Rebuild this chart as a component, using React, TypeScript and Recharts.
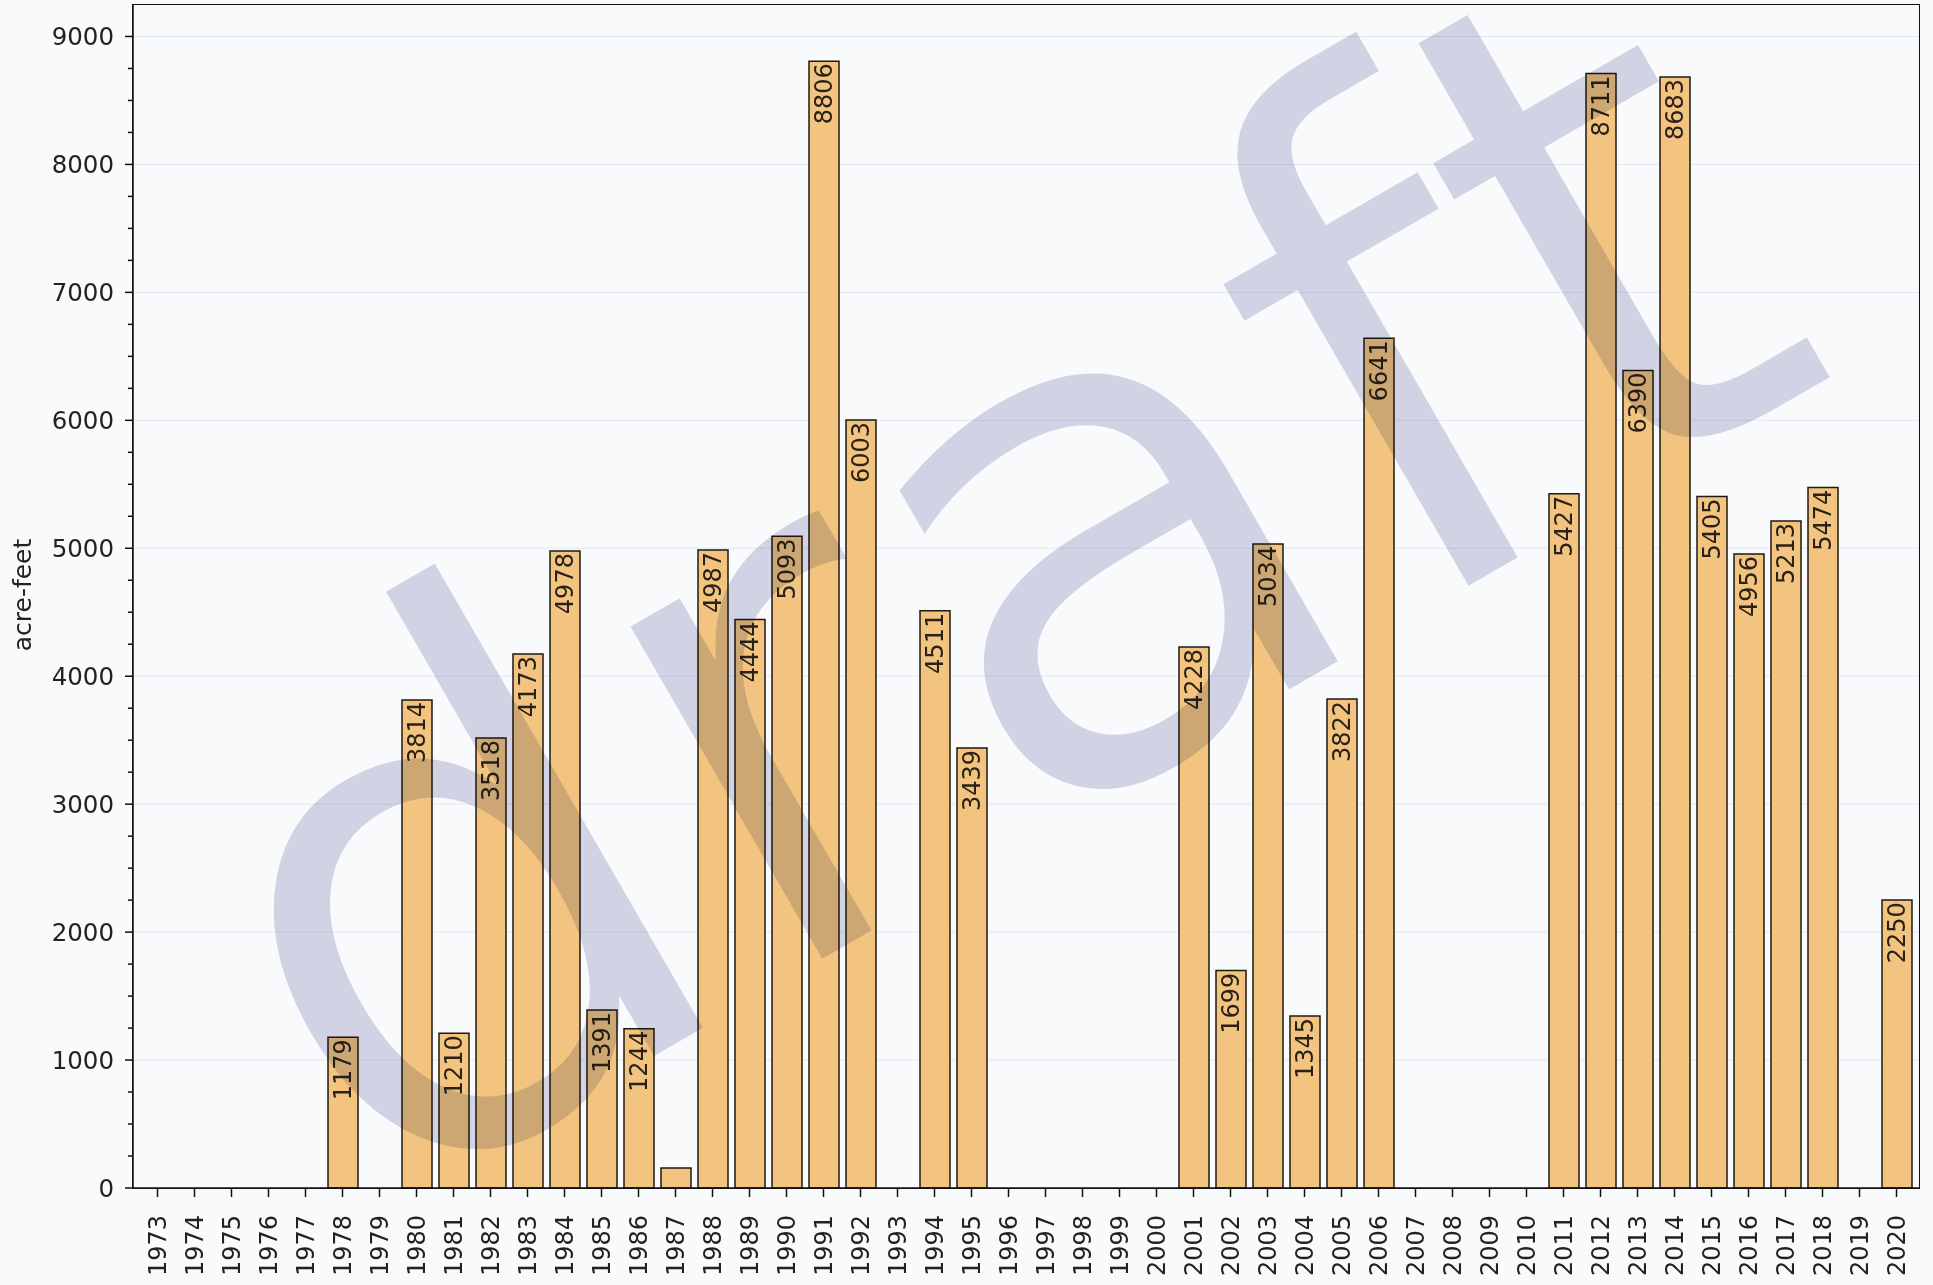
import { Bar, BarChart, CartesianGrid, LabelList, XAxis, YAxis } from "recharts";

// yearly volumes, acre-feet (0 = no bar drawn)
const years = [
  "1973", "1974", "1975", "1976", "1977", "1978", "1979", "1980", "1981", "1982",
  "1983", "1984", "1985", "1986", "1987", "1988", "1989", "1990", "1991", "1992",
  "1993", "1994", "1995", "1996", "1997", "1998", "1999", "2000", "2001", "2002",
  "2003", "2004", "2005", "2006", "2007", "2008", "2009", "2010", "2011", "2012",
  "2013", "2014", "2015", "2016", "2017", "2018", "2019", "2020",
];
const volumes = [
  0, 0, 0, 0, 0, 1179, 0, 3814, 1210, 3518,
  4173, 4978, 1391, 1244, 156, 4987, 4444, 5093, 8806, 6003,
  0, 4511, 3439, 0, 0, 0, 0, 0, 4228, 1699,
  5034, 1345, 3822, 6641, 0, 0, 0, 0, 5427, 8711,
  6390, 8683, 5405, 4956, 5213, 5474, 0, 2250,
];
const yTicks = Array.from({ length: 37 }, (_, i) => i * 250);
const gridValues = [1000, 2000, 3000, 4000, 5000, 6000, 7000, 8000, 9000];

const data = years.map((year, i) => ({ year, volume: volumes[i] }));

const FONT = "DejaVu Sans, Verdana, sans-serif";
const TEXT = "#222";

function YTick({ x, y, payload }: any) {
  const major = payload.value % 1000 === 0;
  return (
    <g>
      <line x1={x} x2={x - (major ? 8 : 5)} y1={y} y2={y} stroke="#111" strokeWidth={1.5} />
      {major && (
        <text x={x - 19} y={y} textAnchor="end" dominantBaseline="central" fontSize={24.5} fill={TEXT} fontFamily={FONT}>
          {payload.value}
        </text>
      )}
    </g>
  );
}

function XTick({ x, y, payload }: any) {
  return (
    <g transform={`translate(${x},${y})`}>
      <text x={-18} y={0} transform="rotate(-90)" textAnchor="end" dominantBaseline="central" fontSize={24} fill={TEXT} fontFamily={FONT}>
        {payload.value}
      </text>
    </g>
  );
}

function YLabel() {
  return (
    <text x={22} y={595} transform="rotate(-90 22 595)" textAnchor="middle" dominantBaseline="central" fontSize={25} fill={TEXT} fontFamily={FONT}>
      acre-feet
    </text>
  );
}

function ValueLabel({ x, y, width, value }: any) {
  if (!value || value < 500) return null;
  const cx = x + width / 2;
  const ty = y + 2;
  return (
    <text x={cx} y={ty} transform={`rotate(-90 ${cx} ${ty})`} textAnchor="end" dominantBaseline="central" fontSize={24} fill="#2a2218" fontFamily={FONT}>
      {value}
    </text>
  );
}

export default function App() {
  return (
    <div style={{ position: "absolute", left: 0, top: 0, width: 1933, height: 1285, background: "#f9fafc" }}>
      <BarChart width={1933} height={1285} data={data} margin={{ top: 5, right: 14, left: 0, bottom: 0 }}>
        <CartesianGrid horizontalValues={gridValues} vertical={false} stroke="#e3e7ee" strokeWidth={1} />
        <XAxis
          dataKey="year"
          height={97}
          interval={0}
          padding={{ left: 6, right: 4 }}
          tick={<XTick />}
          tickSize={9}
          tickMargin={0}
          tickLine={{ stroke: "#111", strokeWidth: 1.5 }}
          axisLine={{ stroke: "#111", strokeWidth: 1.5 }}
        />
        <YAxis
          width={133}
          domain={[0, 9246]}
          ticks={yTicks}
          interval={0}
          tick={<YTick />}
          tickSize={0}
          tickMargin={0}
          tickLine={false}
          axisLine={{ stroke: "#111", strokeWidth: 1.5 }}
          allowDataOverflow
          label={<YLabel />}
        />
        <Bar dataKey="volume" barSize={30} fill="#f3c47f" stroke="#1e1912" strokeWidth={1.5} isAnimationActive={false}>
          <LabelList dataKey="volume" content={<ValueLabel />} />
        </Bar>
      </BarChart>
      <div
        style={{
          position: "absolute",
          left: 132,
          top: 4,
          width: 1788,
          height: 1185,
          boxSizing: "border-box",
          border: "1.5px solid #111",
          pointerEvents: "none",
        }}
      />
      <svg
        width={1933}
        height={1285}
        style={{ position: "absolute", left: 0, top: 0, pointerEvents: "none", mixBlendMode: "multiply" }}
      >
        {/* white stroke thins the glyphs; under multiply it leaves the chart untouched */}
        <text
          x={371}
          y={1224}
          transform="rotate(-30 371 1224)"
          fontSize={716}
          fontFamily={FONT}
          fill="rgb(214,216,231)"
          stroke="#ffffff"
          strokeWidth={8}
          paintOrder="fill stroke"
        >
          draft
        </text>
      </svg>
    </div>
  );
}
